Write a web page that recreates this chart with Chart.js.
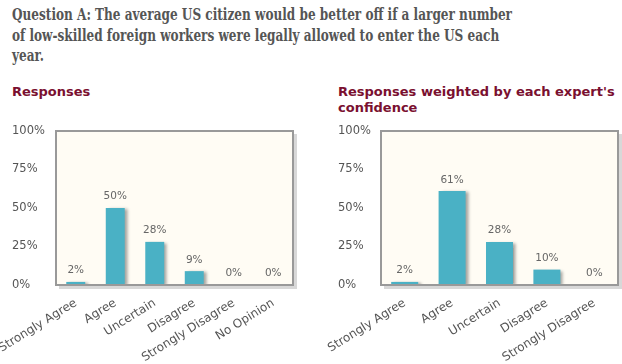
<!DOCTYPE html>
<html>
<head>
<meta charset="utf-8">
<script src="https://cdn.jsdelivr.net/npm/chart.js@4/dist/chart.umd.min.js"></script>
<style>
  body { margin: 0; width: 622px; height: 364px; background: #fff; position: relative; overflow: hidden; }
  #title { position: absolute; left: 12px; top: 4px; font-family: "DejaVu Serif Condensed", "DejaVu Serif", serif; font-weight: bold;
           font-size: 17px; line-height: 20.5px; color: #555; white-space: nowrap; transform-origin: 0 0; }
  .sub { position: absolute; top: 84px; font-family: "DejaVu Sans", sans-serif; font-weight: bold;
         font-size: 13px; line-height: 16px; color: #7a1030; }
  canvas { position: absolute; top: 120px; }
</style>
</head>
<body>
<div id="title">Question A: The average US citizen would be better off if a larger number<br>of low-skilled foreign workers were legally allowed to enter the US each<br>year.</div>
<div class="sub" style="left:12px">Responses</div>
<div class="sub" style="left:338px">Responses weighted by each expert's<br>confidence</div>
<canvas id="c1" width="311" height="244" style="left:0"></canvas>
<canvas id="c2" width="311" height="244" style="left:311px"></canvas>
<script>
const categoriesA = ["Strongly Agree", "Agree", "Uncertain", "Disagree", "Strongly Disagree", "No Opinion"];
const responsesA = [2, 50, 28, 9, 0, 0];
const categoriesB = ["Strongly Agree", "Agree", "Uncertain", "Disagree", "Strongly Disagree"];
const weightedB = [2, 61, 28, 10, 0];
const yTicks = [0, 25, 50, 75, 100];

// squeeze the title so its first line is as wide as in the original
const title = document.getElementById('title');
const tw = title.getBoundingClientRect().width;
title.style.transform = 'scaleX(' + (500 / tw) + ')';

const tickFont = { family: "DejaVu Sans", size: 11.5 };

// plot background, border and shadow
const plotFrame = {
  id: 'plotFrame',
  beforeDatasetsDraw(chart) {
    const { ctx, chartArea: a } = chart;
    ctx.save();
    ctx.fillStyle = '#d8d8d8';
    ctx.fillRect(a.left + 3, a.top + 3, a.right - a.left + 1, a.bottom - a.top + 1);
    ctx.fillStyle = '#fffcf4';
    ctx.fillRect(a.left, a.top, a.right - a.left, a.bottom - a.top);
    ctx.restore();
  },
  beforeDatasetDraw(chart) {
    const ctx = chart.ctx;
    ctx.save();
    ctx.shadowColor = 'rgba(0,0,0,0.35)';
    ctx.shadowOffsetX = 3;
    ctx.shadowOffsetY = 1;
    ctx.shadowBlur = 3;
  },
  afterDatasetDraw(chart) {
    chart.ctx.restore();
  },
  afterDatasetsDraw(chart) {
    const { ctx, chartArea: a } = chart;
    ctx.save();
    ctx.strokeStyle = '#999';
    ctx.lineWidth = 2;
    ctx.strokeRect(a.left, a.top, a.right - a.left, a.bottom - a.top);
    // value labels
    ctx.fillStyle = '#666';
    ctx.font = '10.5px "DejaVu Sans"';
    ctx.textAlign = 'center';
    ctx.textBaseline = 'bottom';
    const meta = chart.getDatasetMeta(0);
    meta.data.forEach((bar, i) => {
      ctx.fillText(chart.data.datasets[0].data[i] + '%', bar.x, bar.y - 6);
    });
    ctx.restore();
  }
};

function makeChart(id, labels, values, padLeft, yWidth, padRight, barPct) {
  return new Chart(document.getElementById(id), {
    type: 'bar',
    data: {
      labels: labels,
      datasets: [{ data: values, backgroundColor: '#4ab1c5', barPercentage: barPct, categoryPercentage: 1 }]
    },
    options: {
      responsive: false,
      animation: false,
      layout: { padding: { left: padLeft, right: padRight, top: 11, bottom: 0 } },
      plugins: { legend: { display: false }, tooltip: { enabled: false } },
      scales: {
        x: {
          grid: { display: false },
          border: { display: false },
          ticks: { font: { family: "DejaVu Sans", size: 12 }, color: '#555', minRotation: 32, maxRotation: 32, padding: 3 },
          afterFit(scale) { scale.height = 79; scale.paddingLeft = 0; scale.paddingRight = 0; }
        },
        y: {
          min: 0, max: 100,
          grid: { display: false },
          border: { display: false },
          afterBuildTicks(scale) { scale.ticks = yTicks.map(v => ({ value: v })); },
          ticks: { font: tickFont, color: '#555', crossAlign: 'far', callback: v => v + '%' },
          afterFit(scale) { scale.width = yWidth; scale.paddingTop = 0; scale.paddingBottom = 0; }
        }
      }
    },
    plugins: [plotFrame]
  });
}

makeChart('c1', categoriesA, responsesA, 12, 44, 18, 0.48);
makeChart('c2', categoriesB, weightedB, 27, 43, 4, 0.57);
</script>
</body>
</html>
